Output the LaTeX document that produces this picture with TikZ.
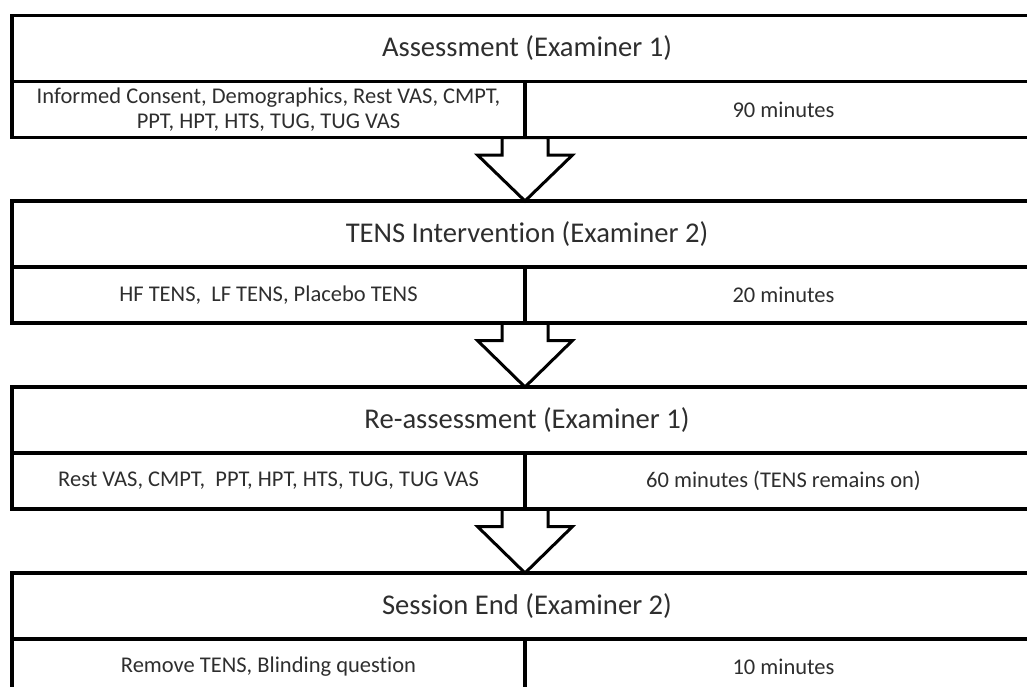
\documentclass[tikz,border=0pt]{standalone}
\usepackage{fontspec}
\setmainfont{Carlito}[Ligatures={NoCommon}]
\usetikzlibrary{calc,backgrounds}

% Hollow block arrow from the bottom of one stage (at the column divider)
% down to the top of the next stage.
\newcommand\flowarrow[2]{%
  \draw[blockarrow] let \p1=(#1), \p2=(#2) in
    (\x1-23pt,\y1) -- (\x1-23pt,\y1-17.5pt) -- (\x1-47.5pt,\y1-17.5pt)
    -- (\x1,\y2) -- (\x1+47.5pt,\y1-17.5pt) -- (\x1+23pt,\y1-17.5pt)
    -- (\x1+23pt,\y1) -- cycle;%
}

\begin{document}
\begin{tikzpicture}[x=1pt,y=-1pt,
  cell/.style={draw=black, line width=3.4pt, inner sep=0pt, outer sep=0pt,
    anchor=north west, align=center, text=black!82, minimum height=56pt},
  titlecell/.style={cell, minimum width=1030pt, minimum height=66pt,
    font=\fontsize{28.6}{34}\selectfont},
  leftcell/.style={cell, minimum width=513pt,
    font=\fontsize{22.5}{25}\selectfont},
  rightcell/.style={cell, minimum width=517pt,
    font=\fontsize{22.5}{25}\selectfont},
  blockarrow/.style={draw=black, fill=white, line width=3pt, line join=miter}
]
\clip (0,0) rectangle (1027,686);

% Stage 1
\node[titlecell] (t1) at (12,15.5) {Assessment (Examiner 1)};
\node[leftcell]  (l1) at (12,81.5)
  {Informed Consent, Demographics, Rest VAS, CMPT,\\PPT, HPT, HTS, TUG, TUG VAS};
\node[rightcell] (r1) at (525,81.5) {90 minutes};

% Stage 2
\node[titlecell] (t2) at (12,201) {TENS Intervention (Examiner 2)};
\node[leftcell]  (l2) at (12,267) {HF TENS, \ LF TENS, Placebo TENS};
\node[rightcell] (r2) at (525,267) {20 minutes};

% Stage 3
\node[titlecell] (t3) at (12,387) {Re-assessment (Examiner 1)};
\node[leftcell]  (l3) at (12,453) {Rest VAS, CMPT, \ PPT, HPT, HTS, TUG, TUG VAS};
\node[rightcell] (r3) at (525,453) {60 minutes (TENS remains on)};

% Stage 4
\node[titlecell] (t4) at (12,573) {Session End (Examiner 2)};
\node[leftcell]  (l4) at (12,639) {Remove TENS, Blinding question};
\node[rightcell] (r4) at (525,639) {10 minutes};

% Transitions between stages, kept beneath the box outlines
\begin{pgfonlayer}{background}
  \flowarrow{l1.south east}{t2.north}
  \flowarrow{l2.south east}{t3.north}
  \flowarrow{l3.south east}{t4.north}
\end{pgfonlayer}
\end{tikzpicture}
\end{document}
